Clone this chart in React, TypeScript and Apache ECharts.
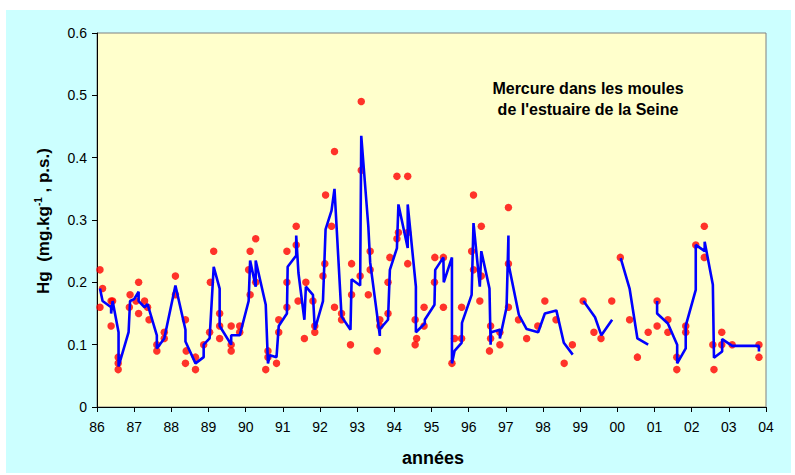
import React, { useEffect, useRef } from "react";
import * as echarts from "echarts";

// Tick labels
const yearTicks = [1986, 1987, 1988, 1989, 1990, 1991, 1992, 1993, 1994, 1995, 1996, 1997, 1998, 1999, 2000, 2001, 2002, 2003, 2004];
const yTicks = [0, 0.1, 0.2, 0.3, 0.4, 0.5, 0.6];

// Individual measurements (red dots): [year, Hg mg/kg]
const measurements: [number, number][] = [
  [1986.08, 0.22], [1986.08, 0.16], [1986.15, 0.19], [1986.38, 0.13], [1986.38, 0.17], [1986.42, 0.17],
  [1986.57, 0.08], [1986.57, 0.07], [1986.57, 0.06], [1986.87, 0.16], [1986.89, 0.18], [1987.05, 0.17],
  [1987.12, 0.2], [1987.12, 0.15], [1987.28, 0.17], [1987.36, 0.16], [1987.4, 0.14], [1987.61, 0.1],
  [1987.61, 0.09], [1987.81, 0.12], [1987.81, 0.11], [1988.11, 0.21], [1988.11, 0.18], [1988.38, 0.14],
  [1988.4, 0.09], [1988.38, 0.07], [1988.65, 0.08], [1988.65, 0.06], [1988.87, 0.1], [1989.03, 0.12],
  [1989.05, 0.2], [1989.14, 0.25], [1989.3, 0.15], [1989.3, 0.13], [1989.3, 0.11], [1989.61, 0.13],
  [1989.61, 0.1], [1989.61, 0.09], [1989.84, 0.13], [1989.84, 0.12], [1990.08, 0.22], [1990.12, 0.25],
  [1990.12, 0.18], [1990.27, 0.27], [1990.27, 0.2], [1990.54, 0.06], [1990.6, 0.09], [1990.6, 0.08],
  [1990.83, 0.07], [1990.89, 0.12], [1990.89, 0.14], [1991.11, 0.16], [1991.11, 0.2], [1991.11, 0.25],
  [1991.36, 0.26], [1991.36, 0.29], [1991.41, 0.17], [1991.58, 0.11], [1991.62, 0.2], [1991.81, 0.17],
  [1991.86, 0.13], [1991.86, 0.12], [1992.08, 0.21], [1992.13, 0.23], [1992.15, 0.34], [1992.31, 0.29],
  [1992.39, 0.41], [1992.39, 0.16], [1992.58, 0.15], [1992.58, 0.14], [1992.82, 0.1], [1992.85, 0.18],
  [1992.85, 0.23], [1993.11, 0.49], [1993.11, 0.38], [1993.08, 0.21], [1993.3, 0.18], [1993.35, 0.25],
  [1993.35, 0.22], [1993.54, 0.09], [1993.61, 0.14], [1993.61, 0.13], [1993.83, 0.15], [1993.83, 0.2],
  [1993.88, 0.24], [1994.07, 0.37], [1994.07, 0.27], [1994.11, 0.28], [1994.36, 0.37], [1994.36, 0.28],
  [1994.36, 0.23], [1994.56, 0.14], [1994.6, 0.11], [1994.56, 0.1], [1994.8, 0.16], [1994.8, 0.13],
  [1995.08, 0.2], [1995.09, 0.24], [1995.32, 0.24], [1995.32, 0.16], [1995.55, 0.07], [1995.62, 0.11],
  [1995.81, 0.16], [1995.81, 0.11], [1996.08, 0.25], [1996.13, 0.34], [1996.13, 0.22], [1996.3, 0.17],
  [1996.34, 0.29], [1996.34, 0.21], [1996.56, 0.09], [1996.59, 0.13], [1996.59, 0.11], [1996.84, 0.1],
  [1996.84, 0.12], [1997.07, 0.32], [1997.07, 0.23], [1997.07, 0.16], [1997.34, 0.14], [1997.56, 0.11],
  [1997.86, 0.13], [1998.05, 0.17], [1998.35, 0.14], [1998.57, 0.07], [1998.79, 0.1], [1999.08, 0.17],
  [1999.37, 0.12], [1999.56, 0.11], [1999.85, 0.17], [2000.08, 0.24], [2000.33, 0.14], [2000.54, 0.08],
  [2000.83, 0.12], [2001.07, 0.17], [2001.07, 0.13], [2001.36, 0.14], [2001.36, 0.12], [2001.6, 0.08],
  [2001.6, 0.06], [2001.84, 0.13], [2001.84, 0.12], [2002.11, 0.26], [2002.34, 0.29], [2002.34, 0.24],
  [2002.57, 0.1], [2002.6, 0.06], [2002.81, 0.12], [2002.81, 0.1], [2003.09, 0.1], [2003.81, 0.1],
  [2003.81, 0.08],
];

// Mean line, segment 1986–1998
const mean1986: [number, number][] = [
  [1986.08, 0.19], [1986.15, 0.17], [1986.38, 0.16], [1986.38, 0.15], [1986.42, 0.17], [1986.58, 0.12],
  [1986.58, 0.065], [1986.85, 0.12], [1986.89, 0.17], [1987.0, 0.173], [1987.12, 0.185], [1987.12, 0.17],
  [1987.28, 0.16], [1987.36, 0.165], [1987.61, 0.115], [1987.61, 0.094], [1987.81, 0.11], [1988.11, 0.195],
  [1988.38, 0.124], [1988.38, 0.105], [1988.65, 0.07], [1988.87, 0.08], [1988.87, 0.1], [1989.03, 0.11],
  [1989.14, 0.225], [1989.3, 0.19], [1989.3, 0.13], [1989.61, 0.1], [1989.61, 0.115], [1989.84, 0.115],
  [1990.08, 0.17], [1990.12, 0.235], [1990.27, 0.193], [1990.27, 0.235], [1990.54, 0.164], [1990.6, 0.07],
  [1990.65, 0.083], [1990.83, 0.08], [1990.89, 0.13], [1991.11, 0.15], [1991.13, 0.225], [1991.36, 0.243],
  [1991.36, 0.275], [1991.42, 0.215], [1991.58, 0.14], [1991.62, 0.193], [1991.81, 0.18], [1991.86, 0.124],
  [1992.08, 0.17], [1992.15, 0.285], [1992.31, 0.315], [1992.39, 0.35], [1992.58, 0.145], [1992.82, 0.124],
  [1992.85, 0.205], [1993.08, 0.195], [1993.11, 0.435], [1993.3, 0.29], [1993.35, 0.232], [1993.61, 0.114],
  [1993.61, 0.125], [1993.83, 0.14], [1993.88, 0.22], [1994.07, 0.255], [1994.11, 0.325], [1994.36, 0.255],
  [1994.36, 0.325], [1994.58, 0.193], [1994.58, 0.12], [1994.82, 0.134], [1994.82, 0.14], [1995.08, 0.164],
  [1995.1, 0.22], [1995.32, 0.24], [1995.33, 0.2], [1995.55, 0.24], [1995.55, 0.07], [1995.62, 0.09],
  [1995.81, 0.103], [1995.82, 0.135], [1996.08, 0.18], [1996.13, 0.295], [1996.3, 0.193], [1996.34, 0.25],
  [1996.56, 0.19], [1996.59, 0.1], [1996.6, 0.12], [1996.84, 0.124], [1996.84, 0.11], [1997.02, 0.16],
  [1997.07, 0.275], [1997.07, 0.23], [1997.35, 0.148], [1997.56, 0.125], [1997.87, 0.12], [1998.05, 0.15],
  [1998.36, 0.155], [1998.56, 0.103], [1998.8, 0.084],
];
// Mean line, segment 1999
const mean1999: [number, number][] = [
  [1999.09, 0.17], [1999.4, 0.144], [1999.57, 0.115], [1999.86, 0.14],
];
// Mean line, segment 2000
const mean2000: [number, number][] = [
  [2000.09, 0.239], [2000.33, 0.19], [2000.54, 0.11], [2000.83, 0.1],
];
// Mean line, segment 2001–2003
const mean2001: [number, number][] = [
  [2001.07, 0.17], [2001.07, 0.15], [2001.36, 0.134], [2001.61, 0.1], [2001.61, 0.07], [2001.84, 0.094],
  [2001.84, 0.13], [2002.11, 0.188], [2002.11, 0.26], [2002.35, 0.25], [2002.35, 0.265], [2002.57, 0.196],
  [2002.6, 0.079], [2002.82, 0.089], [2002.82, 0.109], [2003.09, 0.098], [2003.81, 0.098], [2003.81, 0.089],
];
const meanSegments = [mean1986, mean1999, mean2000, mean2001];

const FONT = "'Liberation Sans', Arial, Helvetica, sans-serif";

export default function App() {
  const ref = useRef<HTMLDivElement>(null);

  useEffect(() => {
    if (!ref.current) return;
    const chart = echarts.init(ref.current, undefined, { renderer: "svg" });
    const lineSeries = meanSegments.map((seg, i) => ({
      type: "line",
      name: "moyenne" + i,
      data: seg,
      showSymbol: false,
      symbol: "none",
      lineStyle: { color: "#0000FF", width: 2.6 },
      z: 3,
    }));
    chart.setOption({
      animation: false,
      backgroundColor: "#CCFFFF",
      grid: {
        left: 91,
        top: 23,
        right: 25,
        bottom: 66,
        show: true,
        backgroundColor: "#FFFFCC",
        borderColor: "#808080",
        borderWidth: 1,
      },
      xAxis: {
        type: "value",
        min: yearTicks[0],
        max: yearTicks[yearTicks.length - 1],
        interval: 1,
        axisLine: { show: true, onZero: false, lineStyle: { color: "#000", width: 1 } },
        axisTick: { show: true, length: 5, lineStyle: { color: "#000" } },
        splitLine: { show: false },
        axisLabel: {
          margin: 13,
          color: "#000",
          fontSize: 14,
          fontFamily: FONT,
          formatter: (v: number) => String(v % 100).padStart(2, "0"),
        },
      },
      yAxis: {
        type: "value",
        min: yTicks[0],
        max: yTicks[yTicks.length - 1],
        interval: 0.1,
        axisLine: { show: true, lineStyle: { color: "#000", width: 1 } },
        axisTick: { show: true, length: 5, lineStyle: { color: "#000" } },
        splitLine: { show: false },
        axisLabel: {
          margin: 10,
          color: "#000",
          fontSize: 14,
          fontFamily: FONT,
          formatter: (v: number) => (Math.abs(v) < 1e-9 ? "0" : v.toFixed(1)),
        },
      },
      graphic: {
        elements: [
          {
            type: "text",
            x: 582,
            y: 78,
            style: {
              text: "Mercure dans les moules",
              fill: "#000",
              font: `bold 16px ${FONT}`,
              align: "center",
              verticalAlign: "middle",
            },
          },
          {
            type: "text",
            x: 582,
            y: 99,
            style: {
              text: "de l'estuaire de la Seine",
              fill: "#000",
              font: `bold 16px ${FONT}`,
              align: "center",
              verticalAlign: "middle",
            },
          },
          {
            type: "text",
            x: 427,
            y: 448,
            style: {
              text: "années",
              fill: "#000",
              font: `bold 18px ${FONT}`,
              align: "center",
              verticalAlign: "middle",
            },
          },
          {
            type: "text",
            x: 37,
            y: 211,
            rotation: Math.PI / 2,
            style: {
              text: "{m|Hg  (mg.kg}{s|-1}{m| , p.s.)}",
              align: "center",
              verticalAlign: "middle",
              rich: {
                m: { fontSize: 17, fontWeight: "bold", fontFamily: FONT, fill: "#000", lineHeight: 20 },
                s: { fontSize: 10, fontWeight: "bold", fontFamily: FONT, fill: "#000", verticalAlign: "top", lineHeight: 20 },
              },
            },
          },
        ],
      },
      series: [
        {
          type: "scatter",
          name: "mesures",
          data: measurements,
          symbol: "circle",
          symbolSize: 7.5,
          itemStyle: { color: "#FF0000" },
          z: 2,
        },
        ...lineSeries,
      ],
    });
    return () => chart.dispose();
  }, []);

  return (
    <div style={{ position: "fixed", left: 0, top: 0, width: 795, height: 475, background: "#fff" }}>
      <div ref={ref} style={{ position: "absolute", left: 6, top: 10, width: 785, height: 463 }} />
    </div>
  );
}
